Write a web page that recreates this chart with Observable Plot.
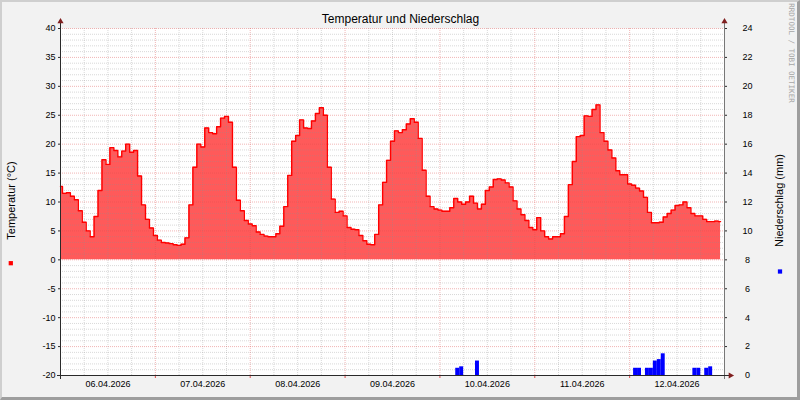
<!DOCTYPE html>
<html>
<head>
<meta charset="utf-8">
<script src="https://cdn.jsdelivr.net/npm/d3@7"></script>
<script src="https://cdn.jsdelivr.net/npm/@observablehq/plot@0.6"></script>
<style>
  html, body { margin: 0; padding: 0; background: #f2f2f2; }
  #wrap { position: relative; width: 800px; height: 400px; overflow: hidden; }
  #wrap svg { display: block; }
  #edge { position: absolute; left: 0; top: 0; width: 800px; height: 400px; box-sizing: border-box;
          border-top: 2px solid #cfcfcf; border-left: 2px solid #cfcfcf;
          border-bottom: 3px solid #9e9e9e; border-right: 3px solid #9e9e9e; pointer-events: none; }
</style>
</head>
<body>
<div id="wrap"><div id="edge"></div></div>
<script>
// ---- data (hourly, starting 06.04.2026 00:00) ----
const startDay = [2026, 3, 6];          // 06.04.2026 (month index 3 = April)
const dayCount = 7;
const temperature = [
  12.7, 11.5, 11.6, 11.0, 10.4, 8.5, 6.5, 5.0, 4.0, 7.5, 12.0, 17.3,
  16.5, 19.4, 18.9, 17.8, 18.8, 20.0, 18.6, 18.9, 14.5, 9.5, 7.0, 5.5,
  4.2, 3.4, 3.0, 2.9, 2.8, 2.6, 2.5, 2.7, 3.8, 9.5, 16.0, 20.0,
  19.5, 22.8, 22.0, 21.8, 23.0, 24.5, 24.8, 23.8, 16.0, 10.3, 8.5, 6.8,
  6.2, 5.9, 4.8, 4.4, 4.1, 4.0, 4.0, 4.5, 5.8, 9.2, 14.6, 20.5,
  21.5, 24.2, 22.8, 22.7, 24.0, 25.3, 26.3, 25.0, 16.0, 10.5, 8.2, 8.4,
  7.6, 5.6, 5.3, 5.2, 4.2, 3.3, 2.7, 2.6, 4.4, 9.5, 13.4, 17.2,
  20.5, 22.3, 22.0, 22.5, 23.5, 24.4, 23.8, 21.0, 15.5, 11.0, 9.2, 8.8,
  8.6, 8.4, 8.4, 9.0, 10.6, 10.0, 9.6, 10.0, 11.0, 9.8, 8.8, 9.6,
  12.0, 12.6, 13.9, 14.0, 13.8, 13.3, 12.6, 10.2, 8.8, 7.8, 6.8, 5.6,
  5.2, 7.3, 5.0, 4.0, 3.6, 4.0, 4.0, 4.5, 7.5, 13.0, 17.0, 21.3,
  21.5, 24.9, 24.8, 26.0, 26.8, 22.0, 20.5, 19.0, 17.6, 15.4, 14.7, 14.7,
  13.1, 12.9, 12.4, 11.9, 10.8, 8.2, 6.4, 6.4, 6.5, 7.4, 8.0, 8.6,
  9.4, 9.5, 10.0, 9.0, 8.0, 7.6, 7.6, 7.0, 6.6, 6.6, 6.7, 6.6
];
const rainHours = [100, 101, 105, 145, 146, 148, 149, 150, 151, 152, 160, 161, 163, 164];
const rainMm    = [0.5, 0.6, 1.0, 0.5, 0.5, 0.5, 0.5, 1.0, 1.1, 1.5, 0.5, 0.5, 0.5, 0.6];

const leftTicks = [-20, -15, -10, -5, 0, 5, 10, 15, 20, 25, 30, 35, 40];
const leftTickLabels = ["-20", "-15", "-10", "-5", "0", "5", "10", "15", "20", "25", "30", "35", "40"];
const rightTickLabels = ["0", "2", "4", "6", "8", "10", "12", "14", "16", "18", "20", "22", "24"];
const dayLabels = ["06.04.2026", "07.04.2026", "08.04.2026", "09.04.2026", "10.04.2026", "11.04.2026", "12.04.2026"];

const titleText = "Temperatur und Niederschlag";
const leftTitle = "Temperatur (°C)";
const rightTitle = "Niederschlag (mm)";
const watermark = "RRDTOOL / TOBI OETIKER";

// ---- derived tables ----
const HOUR = 3600e3;
const t0 = Date.UTC(startDay[0], startDay[1], startDay[2]);
const tEnd = t0 + dayCount * 24 * HOUR;
const yMin = leftTicks[0], yMax = leftTicks[leftTicks.length - 1], mmMax = +rightTickLabels[rightTickLabels.length - 1];
const mmToY = mm => yMin + mm * (yMax - yMin) / mmMax;

const tempRows = temperature.map((v, i) => ({t: new Date(t0 + i * HOUR), v}));
const rainRows = rainHours.map((h, i) => ({
  t1: new Date(t0 + h * HOUR), t2: new Date(t0 + (h + 1) * HOUR), y2: mmToY(rainMm[i])
}));

const minorY = d3.range(yMin, yMax + 1).filter(d => d % 5 !== 0);
const midnights = d3.range(1, dayCount).map(d => new Date(t0 + d * 24 * HOUR));
const sixHours = d3.range(0, dayCount * 4).filter(k => k % 4 !== 0).map(k => new Date(t0 + k * 6 * HOUR));
const noons = dayLabels.map((_, d) => new Date(t0 + (d * 24 + 12) * HOUR));
const bottomTicks = d3.range(0, dayCount + 1).map(d => new Date(t0 + d * 24 * HOUR));

const gridGrey = {stroke: "#8f8f8f", strokeOpacity: 0.35, strokeDasharray: "1,1"};
const gridRed = {stroke: "#de4f4f", strokeOpacity: 0.42, strokeDasharray: "1,1"};
const axisCol = "#2a2a2a";
const arrowCol = "#801f1f";

const chart = Plot.plot({
  width: 800, height: 400,
  marginLeft: 60, marginRight: 76, marginTop: 28, marginBottom: 25,
  style: {background: "transparent", fontFamily: "'Liberation Sans', Arial, sans-serif", fontSize: "9px", color: "#000"},
  x: {type: "utc", domain: [new Date(t0), new Date(tEnd)]},
  y: {domain: [yMin, yMax]},
  marks: [
    Plot.frame({fill: "white", stroke: null}),
    Plot.areaY(tempRows, {x: "t", y: "v", curve: "step", fill: "#ff5a5a"}),
    Plot.ruleY(minorY, gridGrey),
    Plot.ruleX(sixHours, gridGrey),
    Plot.ruleY(leftTicks, gridRed),
    Plot.ruleX(midnights, gridRed),
    Plot.lineY(tempRows, {x: "t", y: "v", curve: "step", stroke: "#ff0000", strokeWidth: 1.4}),
    Plot.rect(rainRows, {x1: "t1", x2: "t2", y1: () => yMin, y2: "y2", fill: "#0000ff"}),
    // axes
    Plot.axisY({anchor: "left", ticks: leftTicks, tickSize: 2, tickPadding: 3, stroke: axisCol,
      tickFormat: (d, i) => leftTickLabels[i], label: null}),
    Plot.axisY({anchor: "right", ticks: leftTicks, tickSize: 2, tickPadding: 21, textAnchor: "middle", stroke: axisCol,
      tickFormat: (d, i) => rightTickLabels[i], label: null}),
    Plot.axisX({ticks: noons, tickSize: 0, tickPadding: 5, tickFormat: (d, i) => dayLabels[i], label: null}),
    Plot.axisX({ticks: bottomTicks, tickSize: 3, tickFormat: () => "", stroke: "#de4f4f", label: null}),
    Plot.frame({anchor: "left", stroke: axisCol, insetTop: -5, insetBottom: -3}),
    Plot.frame({anchor: "right", stroke: "#777", insetTop: -5, insetBottom: -3}),
    Plot.frame({anchor: "bottom", stroke: axisCol, insetLeft: -3, insetRight: -4}),
    // arrows
    Plot.dot([0], {frameAnchor: "top-left", dy: -7, symbol: "triangle", r: 2.3, fill: arrowCol, stroke: null}),
    Plot.dot([0], {frameAnchor: "top-right", dy: -7, symbol: "triangle", r: 2.3, fill: arrowCol, stroke: null}),
    Plot.dot([0], {frameAnchor: "bottom-right", dx: 6, symbol: "triangle", rotate: 90, r: 2.3, fill: arrowCol, stroke: null}),
    // texts
    Plot.text([titleText], {frameAnchor: "top", dx: 8, dy: -9, fontSize: 12, textAnchor: "middle", lineAnchor: "middle", fill: "#000"}),
    Plot.text([leftTitle], {frameAnchor: "left", dx: -49.5, dy: -1.5, rotate: -90, fontSize: 11, textAnchor: "middle", lineAnchor: "middle", fill: "#000"}),
    Plot.text([rightTitle], {frameAnchor: "right", dx: 55.3, dy: -1.5, rotate: -90, fontSize: 11, textAnchor: "middle", lineAnchor: "middle", fill: "#000"}),
    Plot.text([watermark], {frameAnchor: "top-right", dx: 67, dy: 24.5, rotate: 90, fontSize: 7.5, fontFamily: "'DejaVu Sans Mono', monospace", textAnchor: "middle", lineAnchor: "middle", fill: "#a6a6a6"}),
    // legend squares
    Plot.dot([0], {frameAnchor: "left", dx: -49.7, dy: 61.2, symbol: "square", r: 2.4, fill: "#ff0000", stroke: null}),
    Plot.dot([0], {frameAnchor: "right", dx: 55.5, dy: 69.5, symbol: "square", r: 2.4, fill: "#0000ff", stroke: null})
  ]
});
document.getElementById("wrap").prepend(chart);
</script>
</body>
</html>
